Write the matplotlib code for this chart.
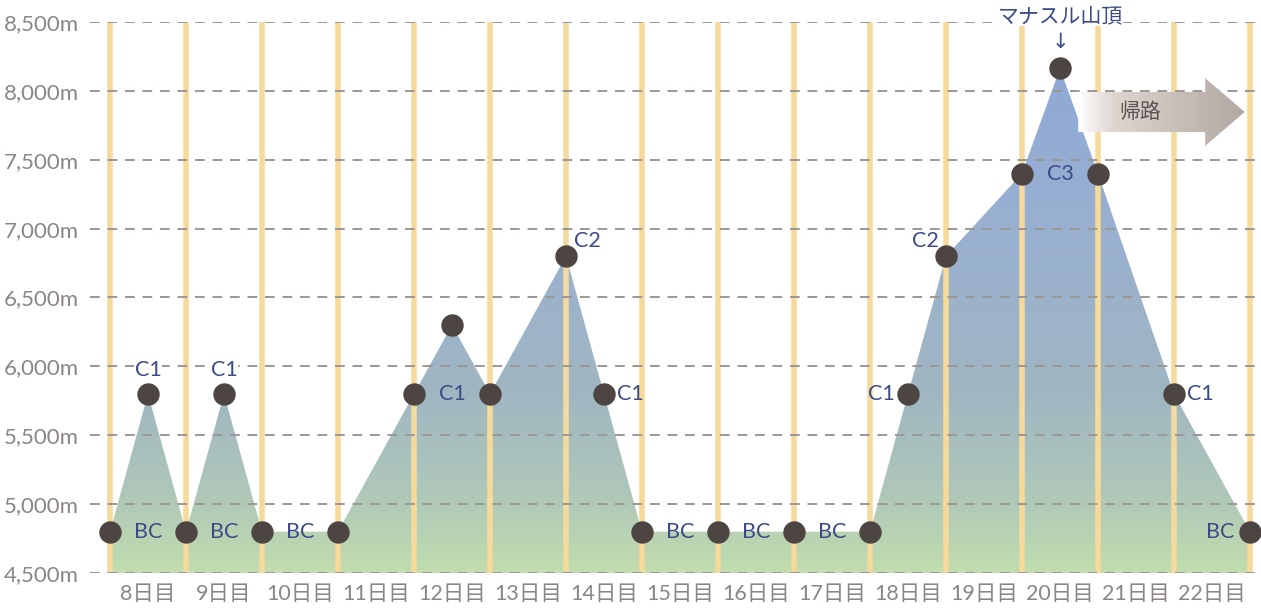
import numpy as np
import matplotlib
matplotlib.use("Agg")
import matplotlib.pyplot as plt
from matplotlib.colors import LinearSegmentedColormap
from matplotlib.patches import Polygon

plt.rcParams['font.family'] = ['Lato', 'Noto Sans CJK JP', 'DejaVu Sans']

# ---- data ----
day_labels = ["8日目", "9日目", "10日目", "11日目", "12日目", "13日目", "14日目", "15日目",
              "16日目", "17日目", "18日目", "19日目", "20日目", "21日目", "22日目"]
# positions in units of day boundaries (0 = start of day 8)
route_x = [0, 0.5, 1, 1.5, 2, 3, 4, 4.5, 5, 6, 6.5, 7, 8, 9, 10, 10.5, 11, 12, 12.5, 13, 14, 15]
route_alt = [4800, 5800, 4800, 5800, 4800, 4800, 5800, 6300, 5800, 6800, 5800, 4800,
             4800, 4800, 4800, 5800, 6800, 7400, 8163, 7400, 5800, 4800]
camp_names = ["C1", "C1", "BC", "BC", "BC", "C1", "C2", "C1", "BC", "BC", "BC",
              "C1", "C2", "C3", "C1", "BC"]
camp_x = [0.5, 1.5, 0.5, 1.5, 2.5, 4.5, 6, 6.5, 7.5, 8.5, 9.5, 10.5, 11, 12.5, 14, 15]
camp_alt = [5800, 5800, 4800, 4800, 4800, 5800, 6800, 5800, 4800, 4800, 4800,
            5800, 6800, 7400, 5800, 4800]
y_ticks = [4500, 5000, 5500, 6000, 6500, 7000, 7500, 8000, 8500]
summit_label = "マナスル山頂"
return_label = "帰路"

W, H = 1261, 608
fig = plt.figure(figsize=(W / 100, H / 100), dpi=100)
ax = fig.add_axes([90 / W, (H - 573) / H, 1170 / W, 551 / H])
x0 = -20 / 76
x1 = x0 + 1170 / 76
ax.set_xlim(x0, x1)
ax.set_ylim(4500, 8500)
for s in ax.spines.values():
    s.set_visible(False)

# gradient fill
cmap = LinearSegmentedColormap.from_list(
    "mt", [(0.0, "#c2ddae"), (0.14, "#b0c9b8"), (0.355, "#a0b6c2"),
           (0.68, "#99b0d0"), (1.0, "#8fa9d6")])
poly_x = [route_x[0]] + route_x + [route_x[-1]]
poly_y = [4500] + route_alt + [4500]
clip = Polygon(np.column_stack([poly_x, poly_y]), closed=True, transform=ax.transData,
               facecolor="none", edgecolor="none")
ax.add_patch(clip)
grad = np.linspace(0, 1, 256).reshape(-1, 1)
im = ax.imshow(grad, cmap=cmap, origin="lower", aspect="auto",
               extent=[route_x[0], route_x[-1], 4500, 8163], zorder=1)
im.set_clip_path(clip)

# vertical day boundaries
for i in range(len(day_labels) + 1):
    ax.plot([i, i], [4500, 8500], color="#f6da9c", lw=4, zorder=2, solid_capstyle="butt")

# horizontal dashed grid
for yv in y_ticks:
    ax.plot([x0, x1], [yv, yv], color="#9c9794", lw=1.4, dashes=(5, 4), zorder=3)

ax.set_yticks(y_ticks)
ax.set_yticklabels([f"{v:,}m" for v in y_ticks], fontsize=16, color="#8b8583")
ax.tick_params(axis="y", length=0, pad=8)
ax.set_xticks(np.arange(len(day_labels)) + 0.5)
ax.set_xticklabels(day_labels, fontsize=15.5, color="#8b8583")
ax.tick_params(axis="x", length=0, pad=8)

# route points
ax.scatter(route_x, route_alt, s=260, color="#4d4542", zorder=5, clip_on=False,
           linewidths=0)

# camp labels
lab_col = "#3c4b86"
for name, cx, ca in zip(camp_names, camp_x, camp_alt):
    ha, dx, dy = "center", 0, 0
    bbox = None
    if name == "C1" and cx in (0.5, 1.5):
        dy = 175
        bbox = dict(facecolor="white", edgecolor="none", pad=0.5)
    if cx == 6:
        ha, dx, dy = "left", 0.1, 110
    if cx == 11:
        ha, dx, dy = "right", -0.1, 110
    if cx == 6.5 or cx == 14:
        ha, dx = "left", 0.17
    if cx == 10.5:
        ha, dx = "right", -0.17
    if cx == 15 and name == "BC":
        ha, dx = "right", -0.2
    ax.text(cx + dx, ca + dy, name, ha=ha, va="center", fontsize=15.5, color=lab_col,
            zorder=6, bbox=bbox)

# summit annotation
ax.text(12.5, 8545, summit_label, ha="center", va="center", fontsize=15,
        color=lab_col, zorder=6, clip_on=False,
        bbox=dict(facecolor="white", edgecolor="none", pad=0.3))
ax.text(12.5, 8355, "↓", ha="center", va="center", fontsize=15,
        color=lab_col, zorder=6, family=["DejaVu Sans"])

# return arrow with gradient
ax_l, body_r, tip = 12.74, 14.41, 14.93
b_lo, b_hi, h_lo, h_hi, mid = 7701, 7992, 7600, 8093, 7847
arrow = Polygon([[ax_l, b_lo], [body_r, b_lo], [body_r, h_lo], [tip, mid],
                 [body_r, h_hi], [body_r, b_hi], [ax_l, b_hi]], closed=True,
                transform=ax.transData, facecolor="none", edgecolor="none")
ax.add_patch(arrow)
acmap = LinearSegmentedColormap.from_list("ar", [(0, "#ffffff"), (0.22, "#ddd5d0"),
                                                 (1, "#b3a8a2")])
ag = np.linspace(0, 1, 256).reshape(1, -1)
aim = ax.imshow(ag, cmap=acmap, aspect="auto", extent=[ax_l, tip, h_lo, h_hi], zorder=4)
aim.set_clip_path(arrow)
ax.text(13.55, mid, return_label, ha="center", va="center", fontsize=15,
        color="#5a5350", zorder=6)

ax.set_xlim(x0, x1)
ax.set_ylim(4500, 8500)
fig.savefig("out.png", dpi=100)
